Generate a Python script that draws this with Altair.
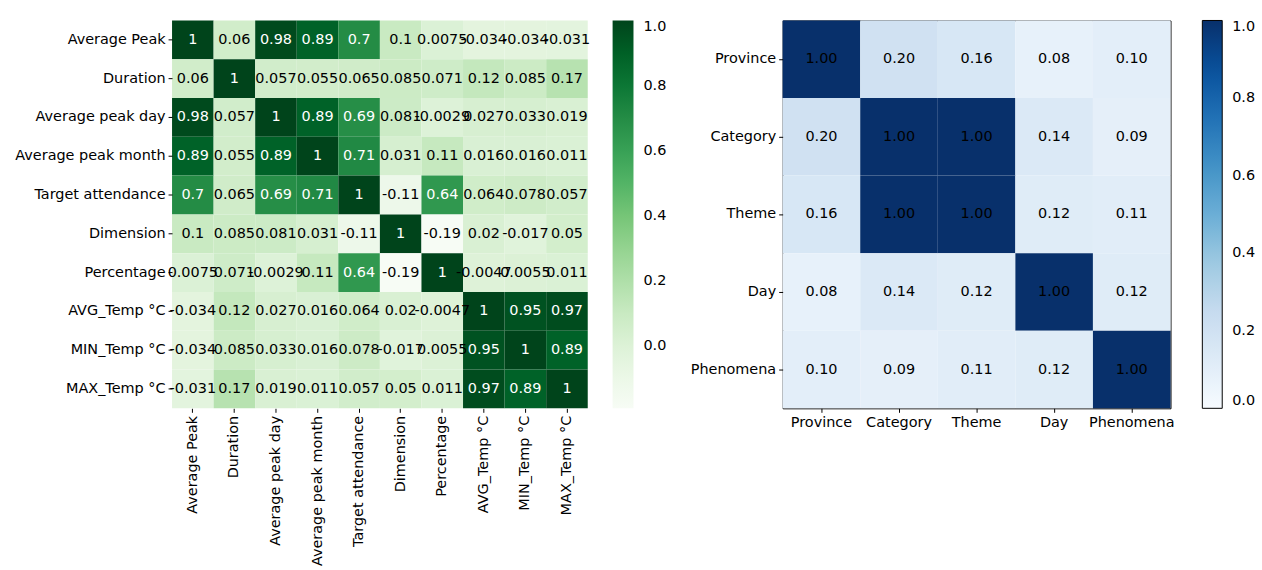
import altair as alt
import pandas as pd

left_labels = ["Average Peak", "Duration", "Average peak day", "Average peak month",
               "Target attendance", "Dimension", "Percentage", "AVG_Temp °C",
               "MIN_Temp °C", "MAX_Temp °C"]
left_matrix = [
    [1, 0.06, 0.98, 0.89, 0.7, 0.1, 0.0075, -0.034, -0.034, -0.031],
    [0.06, 1, 0.057, 0.055, 0.065, 0.085, 0.071, 0.12, 0.085, 0.17],
    [0.98, 0.057, 1, 0.89, 0.69, 0.081, -0.0029, 0.027, 0.033, 0.019],
    [0.89, 0.055, 0.89, 1, 0.71, 0.031, 0.11, 0.016, 0.016, 0.011],
    [0.7, 0.065, 0.69, 0.71, 1, -0.11, 0.64, 0.064, 0.078, 0.057],
    [0.1, 0.085, 0.081, 0.031, -0.11, 1, -0.19, 0.02, -0.017, 0.05],
    [0.0075, 0.071, -0.0029, 0.11, 0.64, -0.19, 1, -0.0047, 0.0055, 0.011],
    [-0.034, 0.12, 0.027, 0.016, 0.064, 0.02, -0.0047, 1, 0.95, 0.97],
    [-0.034, 0.085, 0.033, 0.016, 0.078, -0.017, 0.0055, 0.95, 1, 0.89],
    [-0.031, 0.17, 0.019, 0.011, 0.057, 0.05, 0.011, 0.97, 0.89, 1],
]
right_labels = ["Province", "Category", "Theme", "Day", "Phenomena"]
right_matrix = [
    [1.00, 0.20, 0.16, 0.08, 0.10],
    [0.20, 1.00, 1.00, 0.14, 0.09],
    [0.16, 1.00, 1.00, 0.12, 0.11],
    [0.08, 0.14, 0.12, 1.00, 0.12],
    [0.10, 0.09, 0.11, 0.12, 1.00],
]
colorbar_ticks = [0.0, 0.2, 0.4, 0.6, 0.8, 1.0]
greens = ["#f7fcf5", "#e5f5e0", "#c7e9c0", "#a1d99b", "#74c476",
          "#41ab5d", "#238b45", "#006d2c", "#00441b"]
blues = ["#f7fbff", "#deebf7", "#c6dbef", "#9ecae1", "#6baed6",
         "#4292c6", "#2171b5", "#08519c", "#08306b"]

left_rows = []
for i, r in enumerate(left_labels):
    for j, c in enumerate(left_labels):
        v = left_matrix[i][j]
        left_rows.append({"row": r, "col": c, "value": v, "label": format(v, ".2g")})
left_df = pd.DataFrame(left_rows)

right_rows = []
for i, r in enumerate(right_labels):
    for j, c in enumerate(right_labels):
        v = right_matrix[i][j]
        right_rows.append({"row": r, "col": c, "value": v, "label": format(v, ".2f")})
right_df = pd.DataFrame(right_rows)


def stops(lo, hi, n):
    return [lo + (hi - lo) * k / (n - 1) for k in range(n)]


FONT = "DejaVu Sans"
FS = 14.5

lx = alt.X("col:N", sort=left_labels, title=None,
           scale=alt.Scale(paddingInner=0, paddingOuter=0),
           axis=alt.Axis(labelAngle=270, domain=False, tickSize=4, labelPadding=3,
                         labelFontSize=FS, labelColor="black", tickColor="black"))
ly = alt.Y("row:N", sort=left_labels, title=None,
           scale=alt.Scale(paddingInner=0, paddingOuter=0),
           axis=alt.Axis(domain=False, tickSize=4, labelPadding=3,
                         labelFontSize=FS, labelColor="black", tickColor="black"))

left_rect = alt.Chart(left_df).mark_rect().encode(
    x=lx, y=ly,
    color=alt.Color("value:Q",
                    scale=alt.Scale(domain=stops(-0.19, 1.0, 9), range=greens,
                                    interpolate="rgb"),
                    legend=alt.Legend(title=None, orient="right", offset=25,
                                      gradientLength=390, gradientThickness=21,
                                      gradientStrokeWidth=0, values=colorbar_ticks,
                                      format=".1f", labelFontSize=FS,
                                      labelColor="black", labelOffset=10)),
)
left_text = alt.Chart(left_df).mark_text(fontSize=FS, font=FONT).encode(
    x=alt.X("col:N", sort=left_labels),
    y=alt.Y("row:N", sort=left_labels),
    text="label:N",
    color=alt.condition("datum.value > 0.55", alt.value("white"), alt.value("black")),
)
left = alt.layer(left_rect, left_text).properties(
    width=418, height=390, view=alt.ViewBackground(stroke=None))

rx = alt.X("col:N", sort=right_labels, title=None,
           scale=alt.Scale(paddingInner=0, paddingOuter=0),
           axis=alt.Axis(labelAngle=0, domain=False, tickSize=4, labelPadding=3,
                         labelFontSize=FS, labelColor="black", tickColor="black"))
ry = alt.Y("row:N", sort=right_labels, title=None,
           scale=alt.Scale(paddingInner=0, paddingOuter=0),
           axis=alt.Axis(domain=False, tickSize=4, labelPadding=3,
                         labelFontSize=FS, labelColor="black", tickColor="black"))
right_rect = alt.Chart(right_df).mark_rect().encode(
    x=rx, y=ry,
    color=alt.Color("value:Q",
                    scale=alt.Scale(domain=stops(0.0, 1.0, 9), range=blues,
                                    interpolate="rgb"),
                    legend=alt.Legend(title=None, orient="right", offset=32,
                                      gradientLength=390, gradientThickness=20,
                                      gradientStrokeColor="black", gradientStrokeWidth=1,
                                      values=colorbar_ticks, format=".1f",
                                      labelFontSize=FS, labelColor="black",
                                      labelOffset=10)),
)
right_text = alt.Chart(right_df).mark_text(fontSize=FS, font=FONT, color="black").encode(
    x=alt.X("col:N", sort=right_labels),
    y=alt.Y("row:N", sort=right_labels),
    text="label:N",
)
right = alt.layer(right_rect, right_text).properties(
    width=390, height=390, view=alt.ViewBackground(stroke="black", strokeWidth=1))

chart = alt.hconcat(left, right, spacing=22).resolve_scale(color="independent").properties(
    padding={"left": 14, "top": 18, "right": 5, "bottom": 5},
    background="white",
).configure(font=FONT).configure_axis(labelFont=FONT).configure_legend(labelFont=FONT)

chart.save("out.html", embed_options={"renderer": "svg", "actions": False})
